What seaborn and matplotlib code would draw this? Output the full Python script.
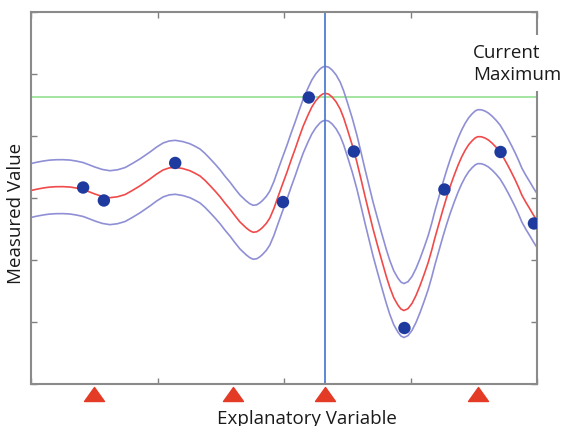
import numpy as np
import pandas as pd
import matplotlib
matplotlib.use("Agg")
import matplotlib.pyplot as plt
from matplotlib.path import Path
import seaborn as sns

# posterior mean (x in 0..1, y in 0..6)
mean_x = [0.000, 0.012, 0.024, 0.036, 0.049, 0.063, 0.077, 0.090, 0.103, 0.115,
          0.126, 0.141, 0.156, 0.171, 0.186, 0.200, 0.215, 0.235, 0.248, 0.261,
          0.273, 0.285, 0.300, 0.314, 0.324, 0.334, 0.344, 0.354, 0.364, 0.374,
          0.383, 0.393, 0.403, 0.413, 0.425, 0.432, 0.439, 0.446, 0.452, 0.457,
          0.465, 0.472, 0.480, 0.488, 0.497, 0.506, 0.514, 0.522, 0.530, 0.538,
          0.547, 0.555, 0.563, 0.571, 0.576, 0.581, 0.588, 0.595, 0.603, 0.611,
          0.618, 0.625, 0.635, 0.644, 0.652, 0.660, 0.668, 0.676, 0.685, 0.694,
          0.702, 0.709, 0.717, 0.725, 0.731, 0.737, 0.745, 0.753, 0.761, 0.769,
          0.777, 0.785, 0.792, 0.798, 0.806, 0.814, 0.821, 0.828, 0.836, 0.844,
          0.851, 0.858, 0.865, 0.872, 0.878, 0.883, 0.890, 0.897, 0.904, 0.911,
          0.919, 0.927, 0.935, 0.943, 0.950, 0.957, 0.964, 0.970, 0.978, 0.986,
          0.993, 1.000]
mean_y = [3.121, 3.143, 3.161, 3.175, 3.182, 3.183, 3.177, 3.160, 3.137, 3.100,
          3.065, 3.025, 3.005, 3.020, 3.056, 3.120, 3.194, 3.306, 3.385, 3.452,
          3.485, 3.495, 3.475, 3.440, 3.400, 3.355, 3.283, 3.198, 3.110, 3.016,
          2.920, 2.823, 2.715, 2.613, 2.520, 2.475, 2.447, 2.455, 2.485, 2.520,
          2.590, 2.677, 2.830, 3.016, 3.220, 3.419, 3.610, 3.790, 3.980, 4.161,
          4.330, 4.468, 4.570, 4.645, 4.675, 4.689, 4.676, 4.630, 4.550, 4.435,
          4.290, 4.113, 3.850, 3.581, 3.310, 3.032, 2.765, 2.500, 2.230, 1.968,
          1.740, 1.560, 1.390, 1.274, 1.210, 1.185, 1.215, 1.300, 1.430, 1.590,
          1.770, 1.960, 2.160, 2.350, 2.580, 2.810, 3.000, 3.177, 3.360, 3.530,
          3.660, 3.770, 3.860, 3.925, 3.970, 3.989, 3.988, 3.968, 3.935, 3.887,
          3.820, 3.742, 3.635, 3.516, 3.405, 3.290, 3.165, 3.048, 2.930, 2.823,
          2.725, 2.637]
band_half = 0.435

# observed samples
obs_x = [0.103, 0.144, 0.285, 0.498, 0.549, 0.638, 0.738, 0.817, 0.928, 0.994]
obs_y = [3.169, 2.960, 3.565, 2.935, 4.621, 3.750, 0.903, 3.137, 3.742, 2.589]

current_max = 4.621
next_x = 0.581
candidate_x = [0.124, 0.399, 0.581, 0.883]

df = pd.DataFrame({"x": mean_x, "mean": mean_y})
df["upper"] = df["mean"] + band_half
df["lower"] = df["mean"] - band_half

sns.set_theme(style="white")
plt.rcParams["font.family"] = ["Open Sans", "DejaVu Sans"]

fig = plt.figure(figsize=(5.64, 4.27), dpi=100)
ax = fig.add_axes([31 / 564, 42 / 427, 506 / 564, 372 / 427])

band_col = "#8f8fd6"
sns.lineplot(data=df, x="x", y="upper", color=band_col, lw=1.2, ax=ax)
sns.lineplot(data=df, x="x", y="lower", color=band_col, lw=1.2, ax=ax)
sns.lineplot(data=df, x="x", y="mean", color="#f04a4a", lw=1.2, ax=ax)
ax.axhline(current_max, color="#9be39b", lw=1.3, zorder=1)
ax.axvline(next_x, color="#4f7fd0", lw=1.3, zorder=2)
sns.scatterplot(x=obs_x, y=obs_y, color="#1f3a9e", s=80, edgecolor="none",
                zorder=5, ax=ax)

tri = Path([(-1, -0.7), (1, -0.7), (0, 0.7), (-1, -0.7)],
           [Path.MOVETO, Path.LINETO, Path.LINETO, Path.CLOSEPOLY])
ax.plot(candidate_x, [-0.16] * len(candidate_x), linestyle="none", marker=tri,
        markersize=14.4, color="#e33b25", clip_on=False)

ax.set_xlim(0, 1)
ax.set_ylim(0, 6)
ax.set_xticks([0, 0.25, 0.5, 0.75, 1])
ax.set_yticks(range(7))
ax.tick_params(direction="in", length=4, width=1, color="#808080",
               top=True, right=True, bottom=True, left=True,
               labelbottom=False, labelleft=False)
for s in ax.spines.values():
    s.set_color("#8a8a8a")
    s.set_linewidth(1.5)
ax.set_xlabel("")
ax.set_ylabel("")

fig.text(307 / 564, 3 / 427, "Explanatory Variable", ha="center",
         va="baseline", fontsize=13.5, color="#1a1a1a")
fig.text(16 / 564, 1 - 213 / 427, "Measured Value", ha="center", va="center",
         rotation=90, fontsize=13.5, color="#1a1a1a")
fig.text(473 / 564, 1 - 44 / 427, "Current\nMaximum", ha="left", va="top",
         fontsize=13.5, color="#1a1a1a", linespacing=1.3, zorder=10,
         bbox=dict(facecolor="white", edgecolor="none", pad=6))

fig.savefig("out.png", dpi=100)
